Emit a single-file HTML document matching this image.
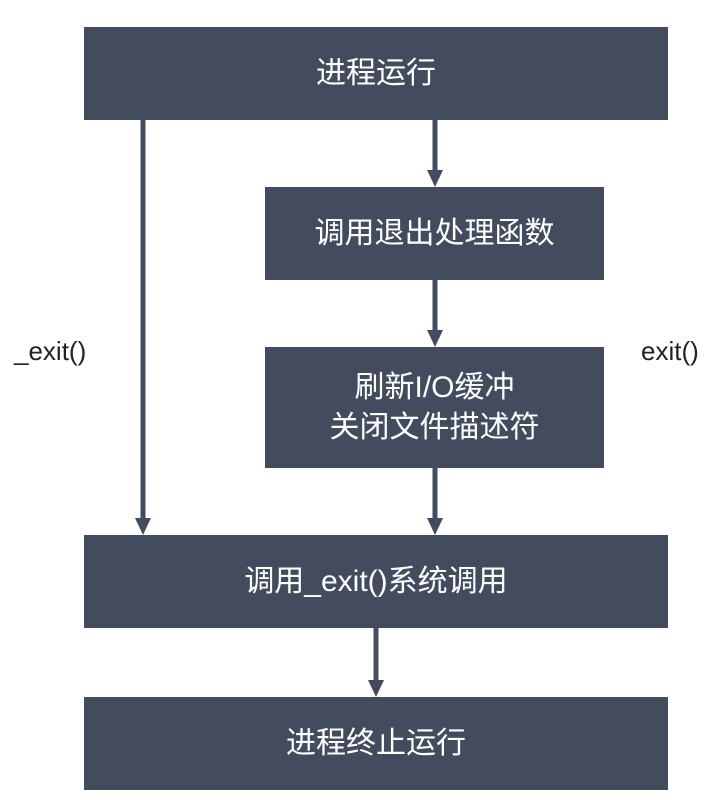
<!DOCTYPE html>
<html><head><meta charset="utf-8"><style>
html,body{margin:0;padding:0;background:#fff;}
body{width:725px;height:803px;position:relative;overflow:hidden;font-family:"Liberation Sans","Noto Sans CJK SC",sans-serif;}
.b{position:absolute;background:#434c5e;color:#fff;display:flex;align-items:center;justify-content:center;text-align:center;font-size:30px;line-height:40px;}
.l{position:absolute;font-size:26px;color:#222;}
</style></head><body>
<div class="b" style="left:84px;top:27px;width:584px;height:93px;">进程运行</div>
<div class="b" style="left:265px;top:187px;width:339px;height:93px;">调用退出处理函数</div>
<div class="b" style="left:265px;top:347px;width:339px;height:121px;">刷新I/O缓冲<br>关闭文件描述符</div>
<div class="b" style="left:84px;top:535px;width:584px;height:93px;">调用_exit()系统调用</div>
<div class="b" style="left:84px;top:697px;width:584px;height:93px;">进程终止运行</div>
<div class="l" style="left:14px;top:336px;">_exit()</div>
<div class="l" style="left:641px;top:336px;">exit()</div>
<svg width="725" height="803" style="position:absolute;left:0;top:0" fill="#434c5e" stroke="#434c5e">
<line x1="143" y1="120" x2="143" y2="520" stroke-width="5"/><polygon points="135,518 151,518 143,535" stroke="none"/>
<line x1="435" y1="120" x2="435" y2="172" stroke-width="5"/><polygon points="427,170 443,170 435,187" stroke="none"/>
<line x1="435" y1="280" x2="435" y2="332" stroke-width="5"/><polygon points="427,330 443,330 435,347" stroke="none"/>
<line x1="435" y1="468" x2="435" y2="520" stroke-width="5"/><polygon points="427,518 443,518 435,535" stroke="none"/>
<line x1="376" y1="628" x2="376" y2="682" stroke-width="5"/><polygon points="368,680 384,680 376,697" stroke="none"/>
</svg>
</body></html>
